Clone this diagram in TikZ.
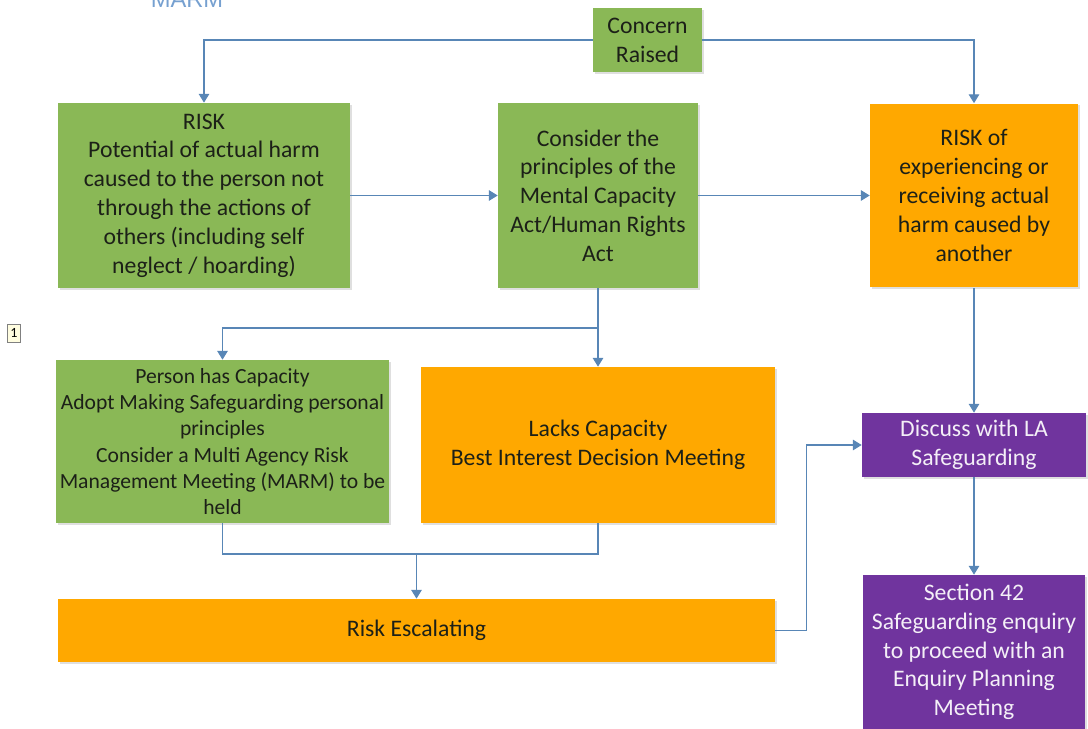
\documentclass[tikz,border=0pt]{standalone}
\usepackage{fontspec}
\setmainfont{Carlito}
\newfontfamily\headfont{Liberation Sans}
\usepackage{tikz}
\usetikzlibrary{arrows.meta}
\usetikzlibrary{shadows}
\usetikzlibrary{positioning}

\definecolor{boxgreen}{RGB}{138,184,86}
\definecolor{boxorange}{RGB}{255,168,0}
\definecolor{boxpurple}{RGB}{112,52,158}
\definecolor{linkblue}{RGB}{88,134,182}
\definecolor{headblue}{RGB}{118,160,208}
\definecolor{darktext}{RGB}{28,32,24}

\begin{document}
\begin{tikzpicture}[x=0.02cm, y=-0.02cm,
    box/.style = {rectangle, align=center, inner sep=2pt, text=darktext,
        font=\fontsize{13.5}{16.4}\selectfont,
        drop shadow={shadow xshift=1pt, shadow yshift=-1pt, opacity=0.25}},
    greenbox/.style = {box, fill=boxgreen},
    orangebox/.style = {box, fill=boxorange},
    purplebox/.style = {box, fill=boxpurple, text=white!92!boxpurple},
    arr/.style = {draw=linkblue, line width=0.6pt, -{Triangle[length=5pt,width=6pt]}},
    link/.style = {draw=linkblue, line width=0.6pt}]
    \useasboundingbox (0,0) rectangle (1088,729);

    \node [anchor=base, text=headblue, font=\headfont\fontsize{13.5}{16}\selectfont] (marm) at (187,8) {MARM};
    \node [draw=gray, fill=yellow!12, inner sep=0pt, minimum width=0.26cm, minimum height=0.36cm,
        font=\fontsize{8}{9}\selectfont] (mark) at (14,333) {1};

    \node [greenbox, minimum width=2.18cm, minimum height=1.28cm] (concern) at (647.5,40) {Concern\\Raised};
    \node [greenbox, minimum width=5.84cm, minimum height=3.7cm] (riskself) at (204,195.5)
        {RISK\\Potential of actual harm\\caused to the person not\\through the actions of\\others (including self\\neglect / hoarding)};
    \node [greenbox, minimum width=4cm, minimum height=3.7cm] (mca) at (598,195.5)
        {Consider the\\principles of the\\Mental Capacity\\Act/Human Rights\\Act};
    \node [orangebox, minimum width=4.16cm, minimum height=3.68cm] (riskother) at (974,195.5)
        {RISK of\\experiencing or\\receiving actual\\harm caused by\\another};
    \node [greenbox, minimum width=6.58cm, minimum height=3.26cm, font=\fontsize{12.3}{15}\selectfont] (capacity) at (222.5,441.5)
        {Person has Capacity\\Adopt Making Safeguarding personal\\principles\\Consider a Multi Agency Risk\\Management Meeting (MARM) to be\\held};
    \node [orangebox, minimum width=7.08cm, minimum height=3.12cm] (lacks) at (598,445)
        {Lacks Capacity\\Best Interest Decision Meeting};
    \node [purplebox, minimum width=4.48cm, minimum height=1.28cm] (discuss) at (974,445)
        {Discuss with LA\\Safeguarding};
    \node [orangebox, minimum width=14.34cm, minimum height=1.26cm] (escalate) at (416.5,630.5) {Risk Escalating};
    \node [purplebox, minimum width=4.46cm, minimum height=3.08cm] (section) at (974,652)
        {Section 42\\Safeguarding enquiry\\to proceed with an\\Enquiry Planning\\Meeting};

    \coordinate (split) at (598,328);
    \coordinate (merge) at (416.5,554);

    \draw [arr] (concern.west) -| (riskself.north);
    \draw [arr] (concern.east) -| (riskother.north);
    \draw [arr] (riskself.east) -- (mca.west);
    \draw [arr] (mca.east) -- (riskother.west);
    \draw [arr] (mca.south) -- (lacks.north);
    \draw [arr] (split) -| (capacity.north);
    \draw [link] (capacity.south) |- (merge) -| (lacks.south);
    \draw [arr] (merge) -- (escalate.north);
    \draw [arr] (escalate.east) -- ++(31,0) |- (discuss.west);
    \draw [arr] (riskother.south) -- (discuss.north);
    \draw [arr] (discuss.south) -- (section.north);
\end{tikzpicture}
\end{document}
